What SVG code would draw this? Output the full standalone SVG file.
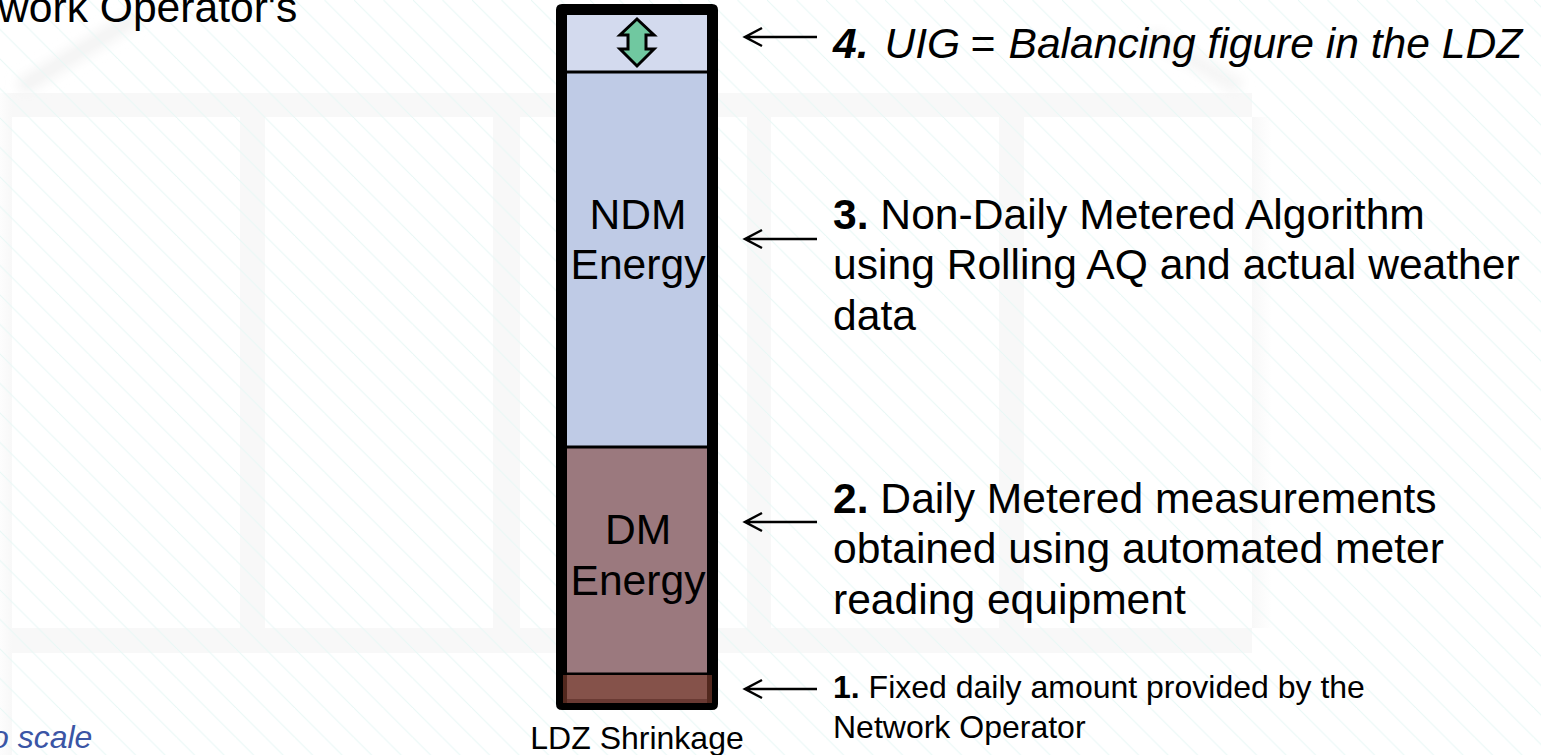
<svg xmlns="http://www.w3.org/2000/svg" width="1541" height="755" viewBox="0 0 1541 755">
<style>
text{font-family:"Liberation Sans",Arial,sans-serif;fill:#000}
.big{font-size:42.6px}
.small{font-size:32px}
.arr{fill:none;stroke:#000;stroke-width:2.5}
.panel{fill:#fff}
.div{fill:none;stroke:#000;stroke-width:3}
</style>
<defs>
<pattern id="hatch" width="29.500" height="29.500" patternUnits="userSpaceOnUse">
<path d="M-1 -1L30.500 30.500M-30.500 -1L1 30.500M29 -1L60 30.500" stroke="#e8f8f5" stroke-width="1" fill="none"/>
</pattern>
<linearGradient id="fadeL" x1="0" x2="1" y1="0" y2="0"><stop offset="0" stop-color="#f8f8f8" stop-opacity="0.3"/><stop offset="1" stop-color="#f8f8f8"/></linearGradient>
<linearGradient id="fadeR" x1="0" x2="1" y1="0" y2="0"><stop offset="0" stop-color="#f8f8f8"/><stop offset="1" stop-color="#f8f8f8" stop-opacity="0"/></linearGradient>
<filter id="soft" x="-20%" y="-20%" width="140%" height="140%"><feGaussianBlur stdDeviation="6"/></filter>
</defs>
<g id="background">
<rect width="1541" height="755" fill="#fff"/>
<rect x="12" y="93" width="1240" height="662" fill="#f8f8f8"/>
<rect x="0" y="93" width="12" height="662" fill="url(#fadeL)"/>
<rect x="1252" y="117" width="20" height="511" fill="url(#fadeR)"/>
<path d="M20 88L135 18" fill="none" stroke="#f3f3f3" stroke-width="16" filter="url(#soft)"/>
<path d="M1150 35L1240 88" fill="none" stroke="#f5f5f5" stroke-width="16" filter="url(#soft)"/>
<rect class="panel" x="12" y="117" width="228" height="511"/>
<rect class="panel" x="265" y="117" width="228" height="511"/>
<rect class="panel" x="520" y="117" width="227" height="511"/>
<rect class="panel" x="771" y="117" width="228" height="511"/>
<rect class="panel" x="1024" y="117" width="228" height="511"/>
<rect class="panel" x="12" y="653" width="1240" height="102"/>
<rect width="1541" height="755" fill="url(#hatch)"/>
</g>
<g id="node-uig">
<rect x="567" y="15" width="140" height="57" fill="#d3daee"/>
<path d="M637 19L654 35L646 35L646 49L654 49L637 66L620 49L628 49L628 35L620 35Z" fill="#70c8a0" stroke="#000" stroke-width="3"/>
</g>
<g id="node-ndm">
<rect x="567" y="72" width="140" height="375" fill="#bfcbe6"/>
<text class="big" x="638" y="229" text-anchor="middle">NDM</text>
<text class="big" x="638" y="279" text-anchor="middle">Energy</text>
</g>
<g id="node-dm">
<rect x="567" y="447" width="140" height="227" fill="#9b797e"/>
<text class="big" x="638" y="544" text-anchor="middle">DM</text>
<text class="big" x="638" y="595" text-anchor="middle">Energy</text>
</g>
<g id="node-column">
<path class="div" d="M567 72H707M567 447H707M567 674H707"/>
<path fill-rule="evenodd" d="M562 4H712Q718 4 718 10V704Q718 710 712 710H562Q556 710 556 704V10Q556 4 562 4ZM567 15V703H707V15Z" fill="#000"/>
</g>
<g id="node-shrinkage">
<rect x="563" y="675" width="149" height="28" fill="#52281e"/>
<rect x="567" y="675" width="140" height="24" fill="#85524a"/>
<rect x="567" y="699" width="140" height="4" fill="#6a3a33"/>
</g>
<g id="connectors">
<path class="arr" d="M817 37H745M762 28L745 37L762 46"/>
<path class="arr" d="M817 239H745M762 230L745 239L762 248"/>
<path class="arr" d="M817 522H745M762 513L745 522L762 531"/>
<path class="arr" d="M817 689H745M762 680L745 689L762 698"/>
</g>
<g id="label-top-left"><text class="big" x="-2" y="22">work Operator's</text></g>
<g id="label-scale"><text class="small" x="-9" y="748" font-style="italic" style="fill:#3a55a5">o scale</text></g>
<g id="label-shrinkage"><text class="small" x="637" y="749" text-anchor="middle">LDZ Shrinkage</text></g>
<g id="label-4"><text class="big" x="833" y="57.500" font-style="italic"><tspan font-weight="bold">4.</tspan><tspan x="884.500">UIG</tspan><tspan x="970">=</tspan><tspan x="1008.500">Balancing figure in the LDZ</tspan></text></g>
<g id="label-3"><text class="big" x="833" y="229"><tspan font-weight="bold">3.</tspan> Non-Daily Metered Algorithm</text><text class="big" x="833" y="279">using Rolling AQ and actual weather</text><text class="big" x="833" y="330">data</text></g>
<g id="label-2"><text class="big" x="833" y="513"><tspan font-weight="bold">2.</tspan> Daily Metered measurements</text><text class="big" x="833" y="563">obtained using automated meter</text><text class="big" x="833" y="614">reading equipment</text></g>
<g id="label-1"><text class="small" x="833" y="698"><tspan font-weight="bold">1.</tspan> Fixed daily amount provided by the</text><text class="small" x="833" y="738">Network Operator</text></g>
</svg>
